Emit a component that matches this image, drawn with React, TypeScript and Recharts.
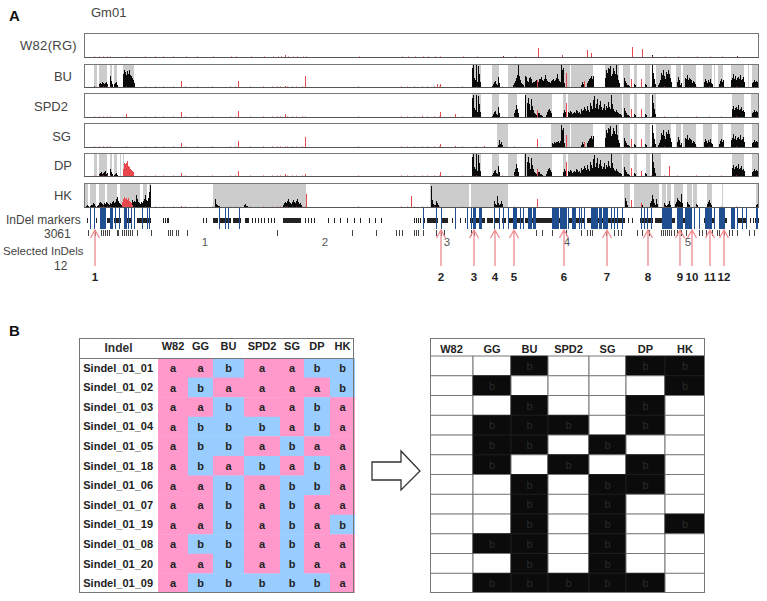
import React from 'react';
import { Bar, BarChart, Cell, LabelList, ReferenceArea, Scatter, ScatterChart, XAxis, YAxis } from 'recharts';

type Run = [number, number[]];
type Span = [number, number];

// panel A: positions along Gm01, heights are read depth at that position
const GENOME_END = 675;

const leftBu: Run[] = [[10, [2]], [15, [4, 5, 4, 6, 5, 4, 5, 6, 4]], [26, [12, 7, 4]], [30, [4, 5, 6, 3]], [39, [14, 18, 16, 13, 17, 14, 18, 13, 12, 10, 8, 5]]];
const leftDp: Run[] = [[15, [3, 4, 5, 3, 4, 5, 6, 3, 4]], [26, [8, 5, 3]], [30, [2, 3, 4, 2]]];
const clusterA: Run = [388, [20, 23, 10, 8, 23, 6, 22, 14, 6]];
const clusterB: Run = [408, [2, 4, 6, 7, 4, 3, 11, 5]];
const clusterC: Run = [429, [3, 5, 7, 10, 13, 23, 12, 8, 5, 4, 3]];
const clusterD: Run = [441, [12, 11, 7, 6, 10, 11, 9, 5, 6, 6, 7, 8, 8, 6, 9, 9, 11, 8, 7, 9, 13, 9, 7, 6, 6, 5, 7, 8, 9, 7, 8, 10, 14, 9, 7, 6, 23, 18, 20, 5]];
const clusterE: Run = [497, [3, 6, 4, 0, 0, 0, 5, 7, 9, 10, 12, 9, 12]];
const clusterF: Run = [521, [10, 18, 15, 20, 19, 22, 12, 14, 20, 17, 14, 23, 13, 8, 5]];
const clusterG: Run = [540, [10, 7, 5, 3, 3, 2]];
const clusterH: Run = [550, [4, 3, 0, 0, 0, 0, 0, 0, 0, 0, 0, 4, 3]];
const clusterI: Run = [568, [23, 15, 9, 4]];
const clusterJ: Run = [574, [3, 5, 8, 15, 13, 18, 12, 9, 16, 14, 18, 14, 10, 6]];
const clusterK: Run = [593, [6, 11, 8, 3, 5]];
const clusterL: Run = [601, [10, 9, 13, 8, 10, 9, 8, 5, 7, 6, 4]];
const clusterM: Run = [620, [6, 9, 7, 5, 8, 6, 9, 5, 4]];
const clusterN: Run = [635, [4, 7, 9, 6, 8]];
const clusterO: Run = [647, [8, 10, 14, 9, 12, 8, 10, 11, 9, 13, 8, 9, 11, 6]];
const clusterP: Run = [668, [5, 6, 8, 6, 7, 6, 8, 5]];
const clusterC2: Run = [430, [5, 8, 13, 9, 5]];
const clusterD2: Run = [441, [23, 0, 15, 20, 14, 8, 19, 12, 8, 5, 4, 3, 4, 5, 5, 3, 3, 2, 0, 0, 0, 3, 6, 8, 9, 7, 5]];
const clusterQ: Run = [479, [5, 8, 6, 0, 0, 6, 5, 7, 6, 4, 5, 6, 5, 8, 7, 5, 6, 4, 9, 7, 8, 11, 9, 7, 12, 8, 6, 15, 12, 9, 18, 22, 10, 14, 19, 9, 13, 17, 11, 8, 10, 14, 8, 12, 10, 16, 11, 9, 23, 14, 9, 7, 6, 8, 6, 5, 4, 4, 3]];
const clusterO2: Run = [648, [9, 12, 8, 10, 11, 9, 13, 8, 9, 11, 7, 8, 6]];
const clusterR: Run = [468, [5, 4, 6, 5, 6, 6, 7, 5, 7, 23, 18, 20, 5]];
const clusterS: Run = [414, [3, 8, 4, 6, 3]];
const hkLeft: Run[] = [[2, [2, 3, 2, 1, 2, 3, 3, 5, 4, 2, 1, 2, 3, 5, 6, 5, 4, 3, 5, 4, 6, 5, 4, 3, 5, 4, 6, 7, 5, 6, 9, 11, 7, 5, 4, 3, 5, 4, 6, 5, 4, 6, 5, 7, 6, 5, 8, 6, 7, 6, 13, 9, 6, 5, 4, 6, 5, 7, 9, 13, 8, 7, 10, 16, 23]]];
const hkMid: Run[] = [[131, [9, 4, 3, 2, 2]], [160, [3, 4, 2, 2]], [199, [3, 5, 6, 5, 7, 9, 6, 5, 4, 6, 8, 6, 5, 7, 9, 6, 4, 5, 3]]];
const hkRight: Run[] = [[347, [22, 8, 4, 3, 3, 7, 5, 3]], [410, [7, 4, 3, 12, 5, 3, 4, 7, 4]], [541, [10, 7, 3]], [557, [4, 3]], [566, [5, 7, 13, 9, 5, 3, 9, 4]], [580, [5, 3, 2, 3, 4, 7, 3]], [591, [4, 6, 10, 8, 7, 6, 14, 5]], [603, [6, 4, 3]], [612, [4, 3]], [623, [4, 6, 8, 5, 3]], [672, [3, 4, 5, 4]]];

const baseTicks = [10, 15, 19, 23, 26, 42, 61, 71, 79, 89, 101, 113, 128, 146, 151, 166, 179, 188, 193, 196, 201, 203, 208, 212, 218, 221, 274, 317, 323, 330, 338, 343, 350, 355, 378, 392, 418, 430, 567, 580, 593, 612, 625, 637, 652];

const w82Red: Run[] = [[201, [3]], [453, [10]], [477, [3]], [502, [8]], [506, [5]], [547, [11]], [557, [9]]];
const buRed: Run[] = [[97, [7]], [154, [7]], [201, [2]], [221, [12]], [353, [4]], [356, [4]], [453, [8]], [482, [15]], [500, [7]], [547, [9]], [557, [9]]];
const spdRed: Run[] = [[42, [4]], [97, [6]], [154, [7]], [201, [4]], [338, [2]], [356, [6]], [371, [4]], [453, [8]], [482, [15]], [547, [9]], [557, [9]]];
const sgRed: Run[] = [[97, [5]], [154, [7]], [221, [11]], [356, [4]], [371, [2]], [400, [2]], [453, [9]], [482, [13]], [500, [6]], [547, [9]], [557, [9]]];
const dpRed: Run[] = [[39, [8, 14, 13, 14, 16, 11, 10, 8, 7, 6, 5]], [97, [4]], [154, [6]], [201, [3]], [221, [3]], [356, [5]], [453, [8]], [482, [15]], [547, [9]], [557, [6]], [585, [11]]];
const hkRed: Run[] = [[38, [6, 9, 11, 9, 10, 8, 10, 7, 6, 5, 3]], [97, [2]], [222, [14]], [327, [12]], [453, [9]], [547, [8]], [557, [5]]];

const w82Gray: Span[] = [];
const buGray: Span[] = [[10, 13], [15, 23], [26, 28], [30, 33], [39, 50], [388, 397], [408, 415], [424, 477], [478, 486], [487, 509], [521, 535], [539, 546], [550, 553], [561, 566], [572, 587], [592, 597], [599, 612], [619, 628], [630, 631], [634, 639], [647, 660], [664, 665], [668, 675]];
const spdGray: Span[] = [[388, 397], [408, 415], [424, 433], [441, 468], [479, 482], [484, 538], [539, 546], [550, 553], [561, 566], [568, 572], [648, 660], [667, 675]];
const sgGray: Span[] = [[413, 424], [467, 486], [487, 509], [521, 535], [539, 546], [550, 553], [561, 566], [572, 587], [592, 597], [599, 612], [619, 628], [634, 639], [647, 660], [668, 675]];
const dpGray: Span[] = [[10, 13], [15, 23], [26, 28], [30, 33], [36, 37], [39, 40], [388, 397], [408, 415], [424, 433], [440, 468], [479, 482], [484, 538], [539, 546], [550, 553], [562, 566], [568, 577], [648, 660], [668, 675]];
const hkGray: Span[] = [[0, 4], [6, 12], [15, 21], [23, 33], [36, 56], [59, 63], [65, 67], [129, 222], [346, 385], [387, 424], [540, 546], [550, 575], [578, 582], [583, 587], [590, 599], [603, 608], [609, 613], [623, 628], [638, 639], [672, 675]];

const markerRowOne: (number | Span)[] = [3, 10, 12, [16, 20], [23, 28], [30, 36], [41, 47], [53, 66], 79, 81, 83, 84, 119, 122, [129, 133], [136, 146], [149, 156], [161, 164], 168, 171, 174, 177, 180, 184, 187, 190, [199, 216], 221, 224, 227, 230, 244, 250, 256, 263, 270, 276, 285, 291, 297, 330, 332, 334, 336, 340, [343, 353], [358, 363], 368, 371, 376, 381, [386, 400], [403, 408], [411, 414], [418, 421], [424, 428], [430, 438], [441, 448], [451, 468], [470, 482], [485, 500], [503, 510], [512, 540], 544, 548, 556, [558, 568], [571, 590], [594, 604], 610, [620, 630], [636, 642], [653, 662], 666, 669, [671, 675]];
const markerRowTwo: (number | Span)[] = [4, 11, 17, 19, 21, 23, 25, 33, 34, 38, 40, 42, 44, 46, 48, 53, 67, 84, 86, 88, 92, 94, 103, 193, 268, 292, 312, 315, 318, 330, 332, 334, 339, 352, 357, 360, 387, 390, 452, 458, 468, 482, 497, 503, 506, 508, 522, 530, 534, 537, 553, 558, 565, 577, 579, 581, 583, 585, 587, 590, 593, 597, 602, 615, 618, 622, 628, 633, 635, 640, 645, 648, 653, 665, 670];
const markerBlue: (number | Span)[] = [6, 10, [16, 21], [26, 28], 31, 35, [40, 42], 44, 47, 50, 58, 63, 65, 135, 141, 144, 155, 339, 352, 357, 371, 383, 387, [389, 391], [395, 397], 410, 415, 419, 424, [429, 432], 436, 439, [444, 447], [449, 451], [468, 474], [476, 482], 484, [488, 491], 495, 497, 500, [507, 513], [515, 517], [519, 523], 527, 530, 533, 538, 557, 560, 563, 567, [578, 587], [593, 598], [601, 607], 610, 615, [621, 627], 630, [635, 640], [647, 650], 653, 658, 662, [672, 673]];
const chromLabelTicks = [121, 241, 363, 483, 604];
const chromLabels = ['1', '2', '3', '4', '5'];
const selectedPositions = [11, 357, 390, 411, 430, 480, 523, 564, 596, 608, 626, 640];

// panel B
const indels = ['Sindel_01_01', 'Sindel_01_02', 'Sindel_01_03', 'Sindel_01_04', 'Sindel_01_05', 'Sindel_01_18', 'Sindel_01_06', 'Sindel_01_07', 'Sindel_01_19', 'Sindel_01_08', 'Sindel_01_20', 'Sindel_01_09'];
const cultivars = ['W82', 'GG', 'BU', 'SPD2', 'SG', 'DP', 'HK'];
const genotypes = ['aabaabb', 'abaaaab', 'aabaaba', 'abbbaba', 'abbabaa', 'abababa', 'aababba', 'aababaa', 'aababab', 'abbabaa', 'aababaa', 'abbbbba'];

const leftColWidths = [30, 25, 31, 36, 24, 26, 25];
const rightColWidths = [43, 38, 37, 41, 37, 39, 40];

const expand = (runs: Run[]) => runs.flatMap(([start, heights]) => heights.map((h, i) => [start + i, h] as [number, number]));
const flatten = (items: (number | Span)[]) => items.flatMap((it) => {
  if (typeof it === 'number') return [it];
  const out: number[] = [];
  for (let p = it[0]; p <= it[1]; p++) out.push(p);
  return out;
});

const trackRows = (black: Run[], red: Run[]) => {
  const rows = new Map<number, any>();
  const at = (x: number) => {
    if (!rows.has(x)) rows.set(x, { x });
    return rows.get(x);
  };
  baseTicks.forEach((x) => { at(x).red = 1.5; });
  expand(black).forEach(([x, h]) => { if (h > 0) at(x).black = h; });
  expand(red).forEach(([x, h]) => { at(x).red = h; });
  return Array.from(rows.values()).sort((a, b) => a.x - b.x);
};

const tracks = [
  { name: 'W82(RG)', labelRight: 77, top: 33, height: 25, labelTop: 39, gray: w82Gray, black: [[201, [2]], [418, [2]], [567, [3]], [652, [2]]] as Run[], red: w82Red },
  { name: 'BU', labelRight: 72, top: 64, height: 24, labelTop: 70, gray: buGray, black: [...leftBu, clusterA, clusterB, clusterC, clusterD, clusterE, clusterF, clusterG, clusterH, clusterI, clusterJ, clusterK, clusterL, clusterM, clusterN, clusterO, clusterP], red: buRed },
  { name: 'SPD2', labelRight: 68, top: 93, height: 25, labelTop: 100, gray: spdGray, black: [clusterA, clusterB, clusterC2, clusterD2, clusterQ, clusterG, clusterH, clusterI, clusterO2, clusterP], red: spdRed },
  { name: 'SG', labelRight: 71, top: 123, height: 25, labelTop: 130, gray: sgGray, black: [clusterS, clusterR, clusterE, clusterF, clusterG, clusterH, clusterI, clusterJ, clusterK, clusterL, clusterM, clusterN, clusterO, clusterP], red: sgRed },
  { name: 'DP', labelRight: 72, top: 153, height: 24, labelTop: 159, gray: dpGray, black: [...leftDp, clusterA, clusterB, clusterC2, clusterD2, clusterQ, clusterG, clusterH, clusterI, clusterO2, clusterP], red: dpRed },
  { name: 'HK', labelRight: 72, top: 183, height: 25, labelTop: 189, gray: hkGray, black: [...hkLeft, ...hkMid, ...hkRight], red: hkRed },
];

const abs = (left: number, top: number, extra: React.CSSProperties = {}): React.CSSProperties => ({ position: 'absolute', left, top, ...extra });
const labelStyle: React.CSSProperties = { fontSize: 12, color: '#444', whiteSpace: 'nowrap', lineHeight: '14px' };

// dense rows make recharts shrink the bars below a pixel, so snap each one to a whole pixel
const CrispBar = (props: any) => {
  const { x, y, width, height, fill } = props;
  if (!height) return null;
  return <rect x={Math.round(x + width / 2)} y={y} width={1} height={height} fill={fill} />;
};

const Track = ({ t }: { t: typeof tracks[number] }) => (
  <div style={abs(84, t.top, { width: 675, height: t.height })}>
    <BarChart width={675} height={t.height} data={trackRows(t.black, t.red)} margin={{ top: 0, right: 0, bottom: 0, left: 0 }} barSize={1} barGap={-1}>
      <XAxis dataKey="x" type="number" domain={[0, GENOME_END]} hide allowDataOverflow />
      <YAxis type="number" domain={[0, t.height]} hide allowDataOverflow />
      {t.gray.map(([a, b]) => (
        <ReferenceArea key={a} x1={a} x2={b} fill="#cccccc" fillOpacity={1} stroke="none" />
      ))}
      <Bar dataKey="black" fill="#0a0a0a" shape={CrispBar} isAnimationActive={false} />
      <Bar dataKey="red" fill="#e8474c" shape={CrispBar} isAnimationActive={false} />
    </BarChart>
    <div style={abs(0, 0, { width: 673, height: t.height - 2, border: '1px solid #777', borderBottomColor: '#555' })} />
  </div>
);

const MarkerRow = ({ items, top, height, color, opacity, axis }: { items: (number | Span)[]; top: number; height: number; color: string; opacity?: number; axis?: boolean }) => (
  <div style={abs(84, top)}>
    <BarChart width={675} height={height + (axis ? 20 : 0)} data={flatten(items).map((x) => ({ x, v: 1 }))} margin={{ top: 0, right: 0, bottom: 0, left: 0 }} barSize={1}>
      <XAxis
        dataKey="x"
        type="number"
        domain={[0, GENOME_END]}
        ticks={chromLabelTicks}
        interval={0}
        hide={!axis}
        height={20}
        axisLine={false}
        tickLine={false}
        tickFormatter={(v: number) => chromLabels[chromLabelTicks.indexOf(v)]}
        tick={{ fontSize: 11.5, fill: '#555', fontFamily: 'Liberation Sans', dy: -6 }}
        allowDataOverflow
      />
      <YAxis type="number" domain={[0, 1]} hide />
      <Bar dataKey="v" fill={color} fillOpacity={opacity ?? 1} shape={(p: any) => <CrispBar {...p} fill={color} />} isAnimationActive={false} />
    </BarChart>
  </div>
);

const ArrowShape = (props: any) => {
  const { cx, cy, payload } = props;
  return (
    <g>
      <path d={`M${cx},${cy + 36}V${cy}M${cx - 4.5},${cy + 8}L${cx},${cy}L${cx + 4.5},${cy + 8}`} fill="none" stroke="#ef8a8f" strokeWidth={1.3} />
      <text x={cx} y={cy + 51} textAnchor="middle" fontSize={11.5} fontWeight="bold" fill="#222" fontFamily="Liberation Sans">{payload.label}</text>
    </g>
  );
};

const SelectedArrows = () => (
  <div style={abs(84, 225)}>
    <ScatterChart width={675} height={65} margin={{ top: 0, right: 0, bottom: 0, left: 0 }}>
      <XAxis dataKey="x" type="number" domain={[0, GENOME_END]} hide />
      <YAxis dataKey="y" type="number" domain={[0, 65]} hide />
      <Scatter data={selectedPositions.map((x, i) => ({ x, y: 60, label: String(i + 1) }))} shape={ArrowShape} isAnimationActive={false} />
    </ScatterChart>
  </div>
);

const tableRows = (widths: number[]) => indels.map((name, r) => {
  const row: any = { name };
  cultivars.forEach((c, i) => {
    row[c] = widths[i];
    row[`${c}_g`] = genotypes[r][i];
  });
  return row;
});

const columnCenters = (widths: number[]) => widths.map((w, i) => widths.slice(0, i).reduce((s, v) => s + v, 0) + w / 2);

const GenotypeTable = ({ widths, left, chartWidth, headerHeight, headerMargin, labelWidth, binary }: { widths: number[]; left: number; chartWidth: number; headerHeight: number; headerMargin: number; labelWidth: number; binary: boolean }) => {
  const centers = columnCenters(widths);
  const total = widths.reduce((s, v) => s + v, 0);
  const rows = tableRows(widths);
  return (
    <div style={abs(left, 338)}>
      <BarChart width={chartWidth} height={255} layout="vertical" data={rows} margin={{ top: 0, right: 0, bottom: 0, left: 0 }} barCategoryGap={0}>
        <XAxis
          type="number"
          orientation="top"
          domain={[0, total]}
          ticks={centers}
          interval={0}
          height={headerHeight}
          axisLine={false}
          tickLine={false}
          tickMargin={headerMargin}
          tickFormatter={(v: number) => cultivars[centers.indexOf(v)]}
          tick={{ fontSize: 11, fontWeight: 'bold', fill: '#222', fontFamily: 'Liberation Sans' }}
        />
        <YAxis
          dataKey="name"
          type="category"
          width={labelWidth}
          hide={labelWidth === 0}
          interval={0}
          axisLine={false}
          tickLine={false}
          tickMargin={-1}
          tick={{ fontSize: 11, fontWeight: 'bold', fill: '#222', fontFamily: 'Liberation Sans' }}
        />
        {cultivars.map((c) => (
          <Bar key={c} dataKey={c} stackId="g" isAnimationActive={false}>
            {rows.map((row) => {
              const isB = row[`${c}_g`] === 'b';
              if (binary) return <Cell key={row.name} fill={isB ? '#0b0b0b' : '#fff'} stroke={isB ? '#1c1c1c' : '#777'} />;
              return <Cell key={row.name} fill={isB ? '#99ccff' : '#ff99cc'} stroke="none" />;
            })}
            <LabelList
              dataKey={`${c}_g`}
              position="center"
              content={(p: any) => {
                if (binary && p.value !== 'b') return null;
                return (
                  <text x={p.x + p.width / 2} y={p.y + p.height / 2 + 4} textAnchor="middle" fontSize={11} fontWeight={binary ? 'normal' : 'bold'} fill={binary ? '#2a2a2a' : '#222'} fontFamily="Liberation Sans">{p.value}</text>
                );
              }}
            />
          </Bar>
        ))}
      </BarChart>
    </div>
  );
};

export default function App() {
  return (
    <div style={{ position: 'absolute', left: 0, top: 0, width: 767, height: 601, background: '#fff', overflow: 'hidden', fontFamily: '"Liberation Sans", Arial, sans-serif' }}>
      <div style={abs(9, 7, { fontSize: 15, fontWeight: 'bold', color: '#111' })}>A</div>
      <div style={abs(91, 6, { ...labelStyle, fontSize: 13 })}>Gm01</div>

      {tracks.map((t) => (
        <React.Fragment key={t.name}>
          <div style={abs(0, t.labelTop, { ...labelStyle, fontSize: 13, width: t.labelRight, textAlign: 'right', letterSpacing: t.name === 'W82(RG)' ? 0.3 : 0 })}>{t.name}</div>
          <Track t={t} />
        </React.Fragment>
      ))}

      <div style={abs(6, 213, labelStyle)}>InDel markers</div>
      <div style={abs(44, 227, labelStyle)}>3061</div>
      <div style={abs(3, 244, { ...labelStyle, fontSize: 11.5 })}>Selected InDels</div>
      <div style={abs(54, 259, labelStyle)}>12</div>

      <MarkerRow items={markerRowOne} top={218} height={5} color="#222" />
      <MarkerRow items={markerRowTwo} top={230} height={6} color="#444" axis />
      <MarkerRow items={markerBlue} top={208} height={21} color="#1f4f90" />
      <SelectedArrows />

      <div style={abs(9, 322, { fontSize: 15, fontWeight: 'bold', color: '#111' })}>B</div>

      <GenotypeTable widths={leftColWidths} left={79} chartWidth={276} headerHeight={20} headerMargin={2} labelWidth={79} binary={false} />
      <div style={abs(79, 338, { width: 273, height: 253, border: '1px solid #777' })} />
      <div style={abs(79, 358, { width: 275, height: 1, background: '#777' })} />
      <div style={abs(79, 339, { width: 79, height: 19, textAlign: 'center', fontSize: 12, fontWeight: 'bold', color: '#333', lineHeight: '19px' })}>Indel</div>

      <svg style={abs(370, 449)} width={54} height={44}>
        <path d="M2,13H31V2L50,22L31,41V31H2Z" fill="#fff" stroke="#333" strokeWidth={1.3} />
      </svg>

      <GenotypeTable widths={rightColWidths} left={430} chartWidth={275} headerHeight={18} headerMargin={-3} labelWidth={0} binary />
      <div style={abs(430, 338, { width: 273, height: 253, border: '1px solid #777' })} />
    </div>
  );
}
